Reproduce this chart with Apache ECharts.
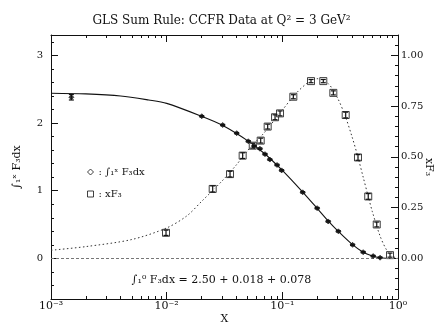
<!DOCTYPE html>
<html>
<head>
<meta charset="utf-8">
<script src="https://cdn.jsdelivr.net/npm/echarts@6/dist/echarts.min.js"></script>
<style>
  html, body { margin: 0; padding: 0; background: #fff; }
  #chart { width: 443px; height: 331px; }
</style>
</head>
<body>
<div id="chart"></div>
<script>
// values (x on a log scale)
const intCurveX = [0.001, 0.002, 0.004, 0.007, 0.01, 0.02, 0.03, 0.05, 0.07, 0.1, 0.15, 0.2, 0.25, 0.3, 0.4, 0.5, 0.6, 0.7, 0.85];
const intCurveY = [2.44, 2.43, 2.40, 2.34, 2.29, 2.10, 1.97, 1.74, 1.55, 1.30, 0.98, 0.74, 0.55, 0.41, 0.21, 0.09, 0.035, 0.01, 0.0];

const intPtsX = [0.0015, 0.0201, 0.0305, 0.0403, 0.0508, 0.057, 0.064, 0.0708, 0.078, 0.090, 0.0986, 0.150, 0.200, 0.249, 0.305, 0.405, 0.50, 0.61, 0.70];
const intPtsY = [2.38, 2.10, 1.97, 1.85, 1.73, 1.66, 1.62, 1.54, 1.46, 1.38, 1.30, 0.976, 0.742, 0.546, 0.40, 0.20, 0.092, 0.034, 0.01];
const intPtsErr = [0.04, 0.01, 0.01, 0.01, 0.01, 0.01, 0.01, 0.01, 0.01, 0.01, 0.01, 0.01, 0.01, 0.01, 0.01, 0.01, 0.01, 0.01, 0.01];

const f3CurveX = [0.001, 0.002, 0.005, 0.01, 0.015, 0.02, 0.03, 0.04, 0.05, 0.07, 0.1, 0.13, 0.17, 0.2, 0.25, 0.3, 0.35, 0.4, 0.45, 0.5, 0.55, 0.6, 0.7, 0.8, 0.9, 1.0];
const f3CurveY = [0.04, 0.058, 0.093, 0.15, 0.21, 0.28, 0.38, 0.46, 0.53, 0.62, 0.73, 0.81, 0.87, 0.885, 0.86, 0.79, 0.70, 0.60, 0.50, 0.40, 0.31, 0.23, 0.11, 0.04, 0.01, 0.0];

const f3PtsX = [0.00987, 0.025, 0.0353, 0.0454, 0.0555, 0.065, 0.0747, 0.0865, 0.0955, 0.1245, 0.177, 0.226, 0.276, 0.353, 0.451, 0.553, 0.655, 0.853];
const f3PtsY = [0.126, 0.342, 0.415, 0.506, 0.555, 0.58, 0.649, 0.695, 0.714, 0.796, 0.873, 0.873, 0.815, 0.706, 0.497, 0.305, 0.167, 0.016];
const f3PtsErr = [0.013, 0.015, 0.014, 0.014, 0.012, 0.012, 0.012, 0.012, 0.012, 0.01, 0.008, 0.008, 0.01, 0.014, 0.014, 0.014, 0.012, 0.01];

const xTickExp = [-3, -2, -1, 0];
const xTickLabels = ['10\u207b\u00b3', '10\u207b\u00b2', '10\u207b\u00b9', '10\u2070'];
const leftTicks = [0, 1, 2, 3];
const rightTicks = [0, 0.25, 0.5, 0.75, 1];

const FONT = '"DejaVu Serif", serif';
const INK = '#111';

const zip = (xs, ys) => xs.map((x, i) => [x, ys[i]]);

// minor tick positions (log10 exponent space for x)
const xMinor = [];
for (let e = -3; e < 0; e++) for (let k = 2; k <= 9; k++) xMinor.push(e + Math.log10(k));
const range = (a, b, s) => { const r = []; for (let v = a; v <= b + 1e-9; v += s) r.push(+v.toFixed(4)); return r; };
const leftMinor = range(-0.6, 3.2, 0.2);
const rightMinor = range(-0.2, 1.1, 0.05);

function errBars(xs, ys, errs, yIdx) {
  return {
    type: 'custom',
    xAxisIndex: 0,
    yAxisIndex: yIdx,
    z: 4,
    data: xs.map((x, i) => [x, ys[i] - errs[i], ys[i] + errs[i]]),
    renderItem(params, api) {
      const x = api.value(0);
      const lo = api.coord([x, api.value(1)]);
      const hi = api.coord([x, api.value(2)]);
      const w = 2.5;
      const st = { stroke: INK, lineWidth: 1.2 };
      return {
        type: 'group',
        children: [
          { type: 'line', shape: { x1: lo[0], y1: lo[1], x2: hi[0], y2: hi[1] }, style: st },
          { type: 'line', shape: { x1: lo[0] - w, y1: lo[1], x2: lo[0] + w, y2: lo[1] }, style: st },
          { type: 'line', shape: { x1: hi[0] - w, y1: hi[1], x2: hi[0] + w, y2: hi[1] }, style: st }
        ]
      };
    }
  };
}

const axLine = { show: true, onZero: false, lineStyle: { color: INK, width: 1 } };
const noLine = { show: false, onZero: false };
const lbl = { color: INK, fontFamily: FONT, fontSize: 10 };

const chart = echarts.init(document.getElementById('chart'));
chart.setOption({
  animation: false,
  backgroundColor: '#fff',
  title: {
    text: 'GLS Sum Rule: CCFR Data at Q\u00b2 = 3 GeV\u00b2',
    left: 'center',
    top: 10,
    textStyle: { color: INK, fontFamily: FONT, fontSize: 12, fontWeight: 'normal' }
  },
  legend: {
    orient: 'vertical',
    left: 82,
    top: 162,
    itemWidth: 6,
    itemHeight: 6,
    itemGap: 12,
    formatter: (n) => ': ' + n,
    textStyle: { color: INK, fontFamily: FONT, fontSize: 10 },
    data: [
      { name: '\u222b\u2081\u02e3 F\u2083dx', icon: 'diamond', itemStyle: { color: '#fff', borderColor: INK, borderWidth: 1 } },
      { name: 'xF\u2083', icon: 'rect', itemStyle: { color: '#fff', borderColor: INK, borderWidth: 1 } }
    ]
  },
  grid: { left: 51, right: 45, top: 35, bottom: 32, outerBoundsMode: 'none' },
  xAxis: [
    { type: 'log', logBase: 10, min: 0.001, max: 1, show: false },
    {
      type: 'value', min: -3, max: 0, position: 'bottom',
      name: 'X', nameLocation: 'middle', nameGap: 15, nameMoveOverlap: false,
      nameTextStyle: { color: INK, fontFamily: FONT, fontSize: 11 },
      axisLine: axLine, splitLine: { show: false },
      axisTick: { inside: true, length: 7, customValues: xTickExp, lineStyle: { color: INK } },
      axisLabel: {
        ...lbl, fontSize: 11, customValues: xTickExp, margin: 2,
        formatter: (v) => xTickLabels[xTickExp.indexOf(Math.round(v))]
      }
    },
    {
      type: 'value', min: -3, max: 0, position: 'bottom',
      axisLine: noLine, splitLine: { show: false }, axisLabel: { show: false },
      axisTick: { inside: true, length: 3, customValues: xMinor, lineStyle: { color: INK } }
    },
    {
      type: 'value', min: -3, max: 0, position: 'top',
      axisLine: axLine, splitLine: { show: false }, axisLabel: { show: false },
      axisTick: { inside: true, length: 7, customValues: xTickExp, lineStyle: { color: INK } }
    },
    {
      type: 'value', min: -3, max: 0, position: 'top',
      axisLine: noLine, splitLine: { show: false }, axisLabel: { show: false },
      axisTick: { inside: true, length: 3, customValues: xMinor, lineStyle: { color: INK } }
    }
  ],
  yAxis: [
    {
      type: 'value', min: -0.6, max: 3.3, position: 'left',
      name: '\u222b\u2081\u02e3 F\u2083dx', nameLocation: 'middle', nameRotate: 90, nameGap: 28,
      nameTextStyle: { color: INK, fontFamily: FONT, fontSize: 11 },
      axisLine: axLine, splitLine: { show: false },
      axisTick: { inside: true, length: 7, customValues: leftTicks, lineStyle: { color: INK } },
      axisLabel: { ...lbl, customValues: leftTicks, margin: 8 }
    },
    {
      type: 'value', min: -0.6, max: 3.3, position: 'left',
      axisLine: noLine, splitLine: { show: false }, axisLabel: { show: false },
      axisTick: { inside: true, length: 3, customValues: leftMinor, lineStyle: { color: INK } }
    },
    {
      type: 'value', min: -0.2, max: 1.1, position: 'right',
      name: 'xF\u2083', nameLocation: 'middle', nameRotate: -90, nameGap: 25, nameMoveOverlap: false,
      nameTextStyle: { color: INK, fontFamily: FONT, fontSize: 11 },
      axisLine: axLine, splitLine: { show: false },
      axisTick: { inside: true, length: 7, customValues: rightTicks, lineStyle: { color: INK } },
      axisLabel: { ...lbl, customValues: rightTicks, margin: 3, formatter: (v) => v.toFixed(2) }
    },
    {
      type: 'value', min: -0.2, max: 1.1, position: 'right',
      axisLine: noLine, splitLine: { show: false }, axisLabel: { show: false },
      axisTick: { inside: true, length: 3, customValues: rightMinor, lineStyle: { color: INK } }
    }
  ],
  series: [
    {
      name: 'curve-int', type: 'line', xAxisIndex: 0, yAxisIndex: 0,
      data: zip(intCurveX, intCurveY), smooth: 0.3, showSymbol: false,
      lineStyle: { color: INK, width: 1.1 },
      markLine: {
        silent: true, symbol: 'none', label: { show: false },
        lineStyle: { color: '#777', type: [3, 2], width: 1 },
        data: [{ yAxis: 0 }]
      }
    },
    {
      name: 'curve-f3', type: 'line', xAxisIndex: 0, yAxisIndex: 2,
      data: zip(f3CurveX, f3CurveY), smooth: 0.3, showSymbol: false,
      lineStyle: { color: '#333', width: 1, type: [1.5, 2.5] }
    },
    errBars(intPtsX, intPtsY, intPtsErr, 0),
    errBars(f3PtsX, f3PtsY, f3PtsErr, 2),
    {
      name: '\u222b\u2081\u02e3 F\u2083dx', type: 'scatter', xAxisIndex: 0, yAxisIndex: 0,
      data: zip(intPtsX, intPtsY), symbol: 'diamond', symbolSize: 5, z: 5,
      itemStyle: { color: INK, borderColor: INK, borderWidth: 0.8 }
    },
    {
      name: 'xF\u2083', type: 'scatter', xAxisIndex: 0, yAxisIndex: 2,
      data: zip(f3PtsX, f3PtsY), symbol: 'rect', symbolSize: 7, z: 3,
      itemStyle: { color: '#fff', borderColor: INK, borderWidth: 1 }
    }
  ],
  graphic: [
    {
      type: 'text', left: 'center', top: 275,
      style: {
        text: '\u222b\u2081\u2070 F\u2083dx = 2.50 + 0.018 + 0.078',
        fill: INK, font: '11px "DejaVu Serif", serif'
      }
    }
  ]
});
</script>
</body>
</html>
